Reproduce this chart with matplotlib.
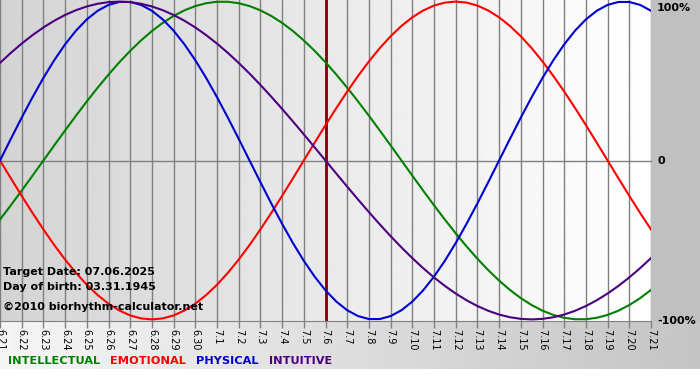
import matplotlib

matplotlib.use("Agg")
import matplotlib.pyplot as plt
import numpy as np

W, H = 700, 380

day_labels = ["6.21", "6.22", "6.23", "6.24", "6.25", "6.26", "6.27", "6.28", "6.29", "6.30",
              "7.1", "7.2", "7.3", "7.4", "7.5", "7.6", "7.7", "7.8", "7.9", "7.10",
              "7.11", "7.12", "7.13", "7.14", "7.15", "7.16", "7.17", "7.18", "7.19", "7.20",
              "7.21"]
target_day = 15

# values read every half day, from 6.21 to 7.21
physical = [0.0, 0.1362, 0.2698, 0.3984, 0.5196, 0.6311, 0.7308, 0.8170, 0.8879, 0.9423,
            0.9791, 0.9977, 0.9977, 0.9791, 0.9423, 0.8879, 0.8170, 0.7308, 0.6311, 0.5196,
            0.3984, 0.2698, 0.1362, 0.0,
            -0.1362, -0.2698, -0.3984, -0.5196, -0.6311, -0.7308, -0.8170, -0.8879, -0.9423, -0.9791,
            -0.9977, -0.9977, -0.9791, -0.9423, -0.8879, -0.8170, -0.7308, -0.6311, -0.5196, -0.3984,
            -0.2698, -0.1362, 0.0,
            0.1362, 0.2698, 0.3984, 0.5196, 0.6311, 0.7308, 0.8170, 0.8879, 0.9423, 0.9791,
            0.9977, 0.9977, 0.9791, 0.9423]
emotional = [0.0, -0.1120, -0.2225, -0.3303, -0.4339, -0.5320, -0.6235, -0.7071, -0.7818, -0.8467,
             -0.9010, -0.9439, -0.9749, -0.9937, -1.0, -0.9937, -0.9749, -0.9439, -0.9010, -0.8467,
             -0.7818, -0.7071, -0.6235, -0.5320, -0.4339, -0.3303, -0.2225, -0.1120, 0.0,
             0.1120, 0.2225, 0.3303, 0.4339, 0.5320, 0.6235, 0.7071, 0.7818, 0.8467,
             0.9010, 0.9439, 0.9749, 0.9937, 1.0, 0.9937, 0.9749, 0.9439, 0.9010, 0.8467,
             0.7818, 0.7071, 0.6235, 0.5320, 0.4339, 0.3303, 0.2225, 0.1120, 0.0,
             -0.1120, -0.2225, -0.3303, -0.4339]
intellectual = [-0.3717, -0.2817, -0.1893, -0.0951,
                0.0, 0.0951, 0.1893, 0.2817, 0.3717, 0.4582, 0.5406, 0.6182, 0.6901, 0.7557,
                0.8146, 0.8660, 0.9096, 0.9450, 0.9718, 0.9898, 0.9989, 0.9989, 0.9898, 0.9718,
                0.9450, 0.9096, 0.8660, 0.8146, 0.7557, 0.6901, 0.6182, 0.5406, 0.4582, 0.3717,
                0.2817, 0.1893, 0.0951, 0.0,
                -0.0951, -0.1893, -0.2817, -0.3717, -0.4582, -0.5406, -0.6182, -0.6901, -0.7557,
                -0.8146, -0.8660, -0.9096, -0.9450, -0.9718, -0.9898, -0.9989, -0.9989, -0.9898,
                -0.9718, -0.9450, -0.9096, -0.8660, -0.8146]
intuitive = [0.6142, 0.6773, 0.7357, 0.7891, 0.8372, 0.8795, 0.9158, 0.9458, 0.9694, 0.9864,
             0.9966, 1.0, 0.9966, 0.9864, 0.9694, 0.9458, 0.9158, 0.8795, 0.8372, 0.7891,
             0.7357, 0.6773, 0.6142, 0.5469, 0.4759, 0.4017, 0.3247, 0.2455, 0.1646, 0.0826,
             0.0,
             -0.0826, -0.1646, -0.2455, -0.3247, -0.4017, -0.4759, -0.5469, -0.6142, -0.6773,
             -0.7357, -0.7891, -0.8372, -0.8795, -0.9158, -0.9458, -0.9694, -0.9864, -0.9966,
             -1.0, -0.9966, -0.9864, -0.9694, -0.9458, -0.9158, -0.8795, -0.8372, -0.7891,
             -0.7357, -0.6773, -0.6142]

series = [
    ("INTELLECTUAL", intellectual, "#008000"),
    ("EMOTIONAL", emotional, "#ff0000"),
    ("PHYSICAL", physical, "#0000d0"),
    ("INTUITIVE", intuitive, "#4b0082"),
]


def fx(px):
    return px / W


def fy(py):
    return 1 - py / H


fig = plt.figure(figsize=(7, 3.8), dpi=100)
fig.patch.set_facecolor("white")

# gray strip under the plot and gray column on the right
band = fig.add_axes([0, fy(369), 1, (369 - 321) / H], zorder=0)
band.imshow(np.linspace(0.96, 0.77, 256).reshape(1, -1), cmap="gray", vmin=0, vmax=1,
            aspect="auto", extent=[0, 1, 0, 1])
band.axis("off")
side = fig.add_axes([fx(651), fy(321), 1 - fx(651), 321 / H], zorder=0)
side.set_facecolor("#c0c0c0")
side.set_xticks([])
side.set_yticks([])
for s in side.spines.values():
    s.set_visible(False)

ax = fig.add_axes([0, fy(321), fx(651), 321 / H], zorder=1)
days = np.arange(len(day_labels))
x = np.arange(len(physical)) / 2
ax.set_xlim(0, days[-1])
ax.set_ylim(-1.01, 1.01)
ax.imshow(np.linspace(0.83, 1.0, 256).reshape(1, -1), cmap="gray", vmin=0, vmax=1,
          aspect="auto", extent=[0, days[-1], -1.01, 1.01], zorder=0)

for d in days:
    ax.axvline(d, color="#808080", lw=1, zorder=1)
ax.axhline(0, color="#808080", lw=1, zorder=1, clip_on=False)
ax.axvline(target_day, color="#800000", lw=2, zorder=2)

for name, vals, color in series:
    ax.plot(x, vals, color=color, lw=1.5, zorder=3)

ax.set_xticks(days)
ax.set_xticklabels(day_labels, rotation=270, fontsize=7)
ax.tick_params(axis="x", length=5, width=1, color="#808080", pad=1)
ax.set_yticks([])
for k, s in ax.spines.items():
    s.set_visible(k == "bottom")
ax.spines["bottom"].set_color("#808080")

# y labels on the gray column
for py, txt in [(8, "100%"), (161, "0"), (321, "-100%")]:
    fig.text(fx(657), fy(py), txt, fontsize=8, fontweight="bold", va="center", ha="left")

info = [(272, "Target Date: 07.06.2025"), (287, "Day of birth: 03.31.1945"),
        (307, "\u00a92010 biorhythm-calculator.net")]
for py, txt in info:
    fig.text(fx(3), fy(py), txt, fontsize=8, fontweight="bold", va="center", ha="left", zorder=5)

px = 8
for name, vals, color in series:
    t = fig.text(fx(px), fy(361), name, fontsize=8.2, fontweight="bold", color=color,
                 va="center", ha="left")
    fig.canvas.draw()
    bb = t.get_window_extent()
    px += bb.width + 10

fig.savefig("out.png", dpi=100)
